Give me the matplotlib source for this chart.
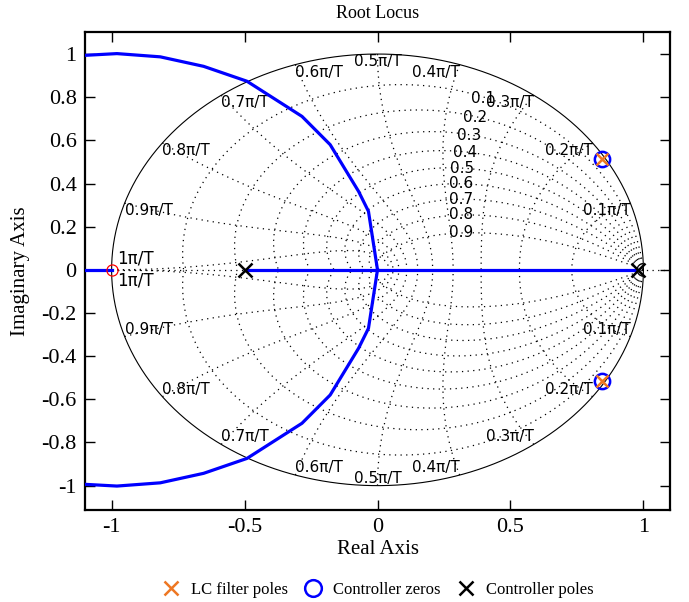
import numpy as np
import matplotlib
matplotlib.use('Agg')
import matplotlib.pyplot as plt
from matplotlib.lines import Line2D

plt.rcParams['axes.unicode_minus'] = False
plt.rcParams['font.family'] = ['Liberation Serif', 'DejaVu Serif']

# root locus branch (upper half, mirrored for the lower one)
locus_re = [0.0, -0.034, -0.071, -0.178, -0.284, -0.491, -0.654, -0.817, -0.980, -1.10, -1.20]
locus_im = [0.0, 0.271, 0.363, 0.580, 0.711, 0.874, 0.943, 0.987, 1.002, 0.994, 0.975]
# real axis segments of the locus
axis_segments = [(-0.5, 0.981), (-1.2, -1.0)]

# poles and zeros
lc_poles_re = [0.844, 0.844]
lc_poles_im = [0.514, -0.516]
ctrl_zeros_re = [0.844, 0.844]
ctrl_zeros_im = [0.514, -0.516]
ctrl_poles_re = [-0.5, 0.981]
ctrl_poles_im = [0.0, 0.0]
plant_zero_re = [-1.0]
plant_zero_im = [0.0]

zetas = [0.1, 0.2, 0.3, 0.4, 0.5, 0.6, 0.7, 0.8, 0.9]
wn_steps = [1, 2, 3, 4, 5, 6, 7, 8, 9, 10]

fig = plt.figure(figsize=(6.89, 6.02), dpi=100)
ax = fig.add_axes([0.1234, 0.1528, 0.849, 0.794])

dot = (0, (1, 3.5))
gfont = dict(fontsize=11, family='DejaVu Sans')

# zgrid: damping curves
th = np.linspace(0, np.pi, 200)
for z in zetas:
    r = np.exp(-z / np.sqrt(1 - z**2) * th)
    for sgn in (1, -1):
        ax.plot(r * np.cos(th), sgn * r * np.sin(th), color='k', lw=0.9, ls=dot)
    wn = 0.35 * np.pi
    p = np.exp(wn * (-z + 1j * np.sqrt(1 - z**2)))
    ax.text(p.real - 0.015, p.imag, '%g' % z, ha='center', va='center', zorder=3, **gfont)

# zgrid: natural frequency curves
zz = np.linspace(0, 1, 100)
for k in wn_steps:
    wn = k * np.pi / 10
    p = np.exp(-zz * wn + 1j * wn * np.sqrt(1 - zz**2))
    for sgn in (1, -1):
        ax.plot(p.real, sgn * p.imag, color='k', lw=0.9, ls=dot)
    c, s = np.cos(wn), np.sin(wn)
    lab = '%gπ/T' % (k / 10)
    if k == 10:
        ax.text(c + 0.02, 0.01, lab, ha='left', va='bottom', fontsize=12, family='DejaVu Sans')
        ax.text(c + 0.02, -0.01, lab, ha='left', va='top', fontsize=12, family='DejaVu Sans')
        continue
    ha = 'right' if c > 0.01 else ('left' if c < -0.01 else 'center')
    ax.text(c, s, lab, ha=ha, va='top', **gfont)
    ax.text(c, -s, lab, ha=ha, va='bottom', **gfont)

# unit circle and real axis
t = np.linspace(0, 2 * np.pi, 400)
ax.plot(np.cos(t), np.sin(t), color='k', lw=0.8)
ax.plot([-1, 1.1], [0, 0], color='k', lw=0.9, ls=dot)

# locus
ax.plot(locus_re, locus_im, color='b', lw=2.3, zorder=4)
ax.plot(locus_re, [-v for v in locus_im], color='b', lw=2.3, zorder=4)
for a, b in axis_segments:
    ax.plot([a, b], [0, 0], color='b', lw=2.3, zorder=4)

# markers
ax.plot(plant_zero_re, plant_zero_im, 'o', mfc='none', mec='r', ms=8, mew=0.9, zorder=5)
ax.plot(ctrl_zeros_re, ctrl_zeros_im, 'o', mfc='none', mec='b', ms=11, mew=1.8, zorder=5)
ax.plot(lc_poles_re, lc_poles_im, 'x', color='#EE7722', ms=9, mew=1.8, zorder=6)
ax.plot(ctrl_poles_re, ctrl_poles_im, 'x', color='k', ms=10, mew=1.8, zorder=6)

ax.set_xlim(-1.1, 1.1)
ax.set_ylim(-1.113, 1.102)
xt = [-1, -0.5, 0, 0.5, 1]
yt = [-1, -0.8, -0.6, -0.4, -0.2, 0, 0.2, 0.4, 0.6, 0.8, 1]
ax.set_xticks(xt)
ax.set_xticklabels(['%g' % v for v in xt])
ax.set_yticks(yt)
ax.set_yticklabels(['%g' % v for v in yt])
ax.tick_params(direction='in', length=7, width=1, top=True, right=True,
               labelsize=16, pad=6)
for sp in ax.spines.values():
    sp.set_linewidth(1.6)

ax.set_title('Root Locus', fontsize=13, pad=10)
ax.set_xlabel('Real Axis', fontsize=15, labelpad=2)
ax.set_ylabel('Imaginary Axis', fontsize=15, labelpad=8)

handles = [
    Line2D([], [], ls='none', marker='x', color='#EE7722', ms=10, mew=1.8),
    Line2D([], [], ls='none', marker='o', mfc='none', mec='b', ms=12, mew=1.8),
    Line2D([], [], ls='none', marker='x', color='k', ms=10, mew=1.8),
]
ax.legend(handles, ['LC filter poles', 'Controller zeros', 'Controller poles'],
          loc='center', bbox_to_anchor=(0.5, -0.167), ncol=3, frameon=False,
          fontsize=12, handletextpad=0.6, columnspacing=0.9, handlelength=1.2)

fig.savefig('out.png', dpi=100)
